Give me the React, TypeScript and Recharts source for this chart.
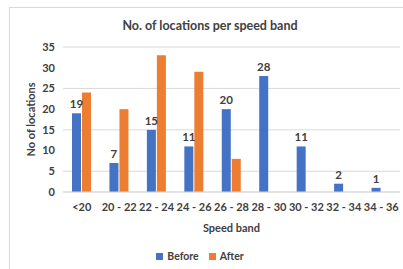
import React from 'react';
import { BarChart, Bar, XAxis, YAxis, CartesianGrid, Legend, LabelList } from 'recharts';

const bands = ['<20', '20 - 22', '22 - 24', '24 - 26', '26 - 28', '28 - 30', '30 - 32', '32 - 34', '34 - 36'];
const before = [19, 7, 15, 11, 20, 28, 11, 2, 1];
const after = [24, 20, 33, 29, 8, 0, 0, 0, 0];
const yTicks = [0, 5, 10, 15, 20, 25, 30, 35];
const seriesNames = ['Before', 'After'];
const seriesColors = ['#4472C4', '#ED7D31'];

const chartData = bands.map((band, i) => ({ band, before: before[i], after: after[i] }));

const font = 'Lato, "Open Sans", sans-serif';
const textColor = '#404040';

// legend drawn in series order (recharts 3 sorts by name otherwise)
const LegendContent = () => (
    <div style={{ display: 'flex', justifyContent: 'center', gap: 10, fontSize: 10.5, fontWeight: 700, color: textColor, fontFamily: font, lineHeight: '12px' }}>
        {seriesNames.map((name, i) => (
            <span key={name} style={{ display: 'flex', alignItems: 'center' }}>
                <span style={{ width: 7, height: 7, background: seriesColors[i], marginRight: 4, display: 'inline-block' }} />
                {name}
            </span>
        ))}
    </div>
);

const App: React.FC = () => {
    return (
        <div style={{ position: 'absolute', left: 0, top: 0, width: 403, height: 269, background: '#fff', fontFamily: font, overflow: 'hidden' }}>
            <div
                style={{
                    position: 'absolute',
                    left: 9,
                    top: 7,
                    width: 400,
                    height: 270,
                    border: '1px solid #d9d9d9',
                    boxSizing: 'border-box',
                }}
            />
            <div
                style={{
                    position: 'absolute',
                    left: 0,
                    width: 420,
                    top: 18,
                    textAlign: 'center',
                    fontSize: 12.5,
                    fontWeight: 700,
                    color: textColor,
                }}
            >
                No. of locations per speed band
            </div>
            <BarChart
                width={403}
                height={269}
                data={chartData}
                margin={{ top: 47, right: 3, bottom: 7, left: 0 }}
                barGap={1}
                style={{ position: 'absolute', left: 0, top: 0 }}
            >
                <CartesianGrid vertical={false} stroke="#d9d9d9" />
                <XAxis
                    dataKey="band"
                    height={58}
                    tickLine={false}
                    axisLine={{ stroke: '#d9d9d9' }}
                    interval={0}
                    tickMargin={5}
                    tick={{ fontSize: 11, fontWeight: 700, fill: textColor, fontFamily: font }}
                    label={{ value: 'Speed band', position: 'insideBottom', offset: 18, fontSize: 11, fontWeight: 700, fill: textColor, fontFamily: font }}
                />
                <YAxis
                    width={63}
                    domain={[0, 35]}
                    ticks={yTicks}
                    tickLine={false}
                    tickSize={0}
                    tickMargin={8}
                    axisLine={false}
                    tick={{ fontSize: 11, fontWeight: 700, fill: textColor, fontFamily: font }}
                    label={{
                        value: 'No of locations',
                        angle: -90,
                        position: 'insideLeft',
                        offset: 31,
                        fontSize: 11,
                        fontWeight: 700,
                        fill: textColor,
                        fontFamily: font,
                        style: { textAnchor: 'middle' },
                    }}
                />
                <Legend verticalAlign="bottom" height={12} content={<LegendContent />} />
                <Bar dataKey="before" name="Before" fill={seriesColors[0]} barSize={9} isAnimationActive={false}>
                    <LabelList dataKey="before" position="top" style={{ fontSize: 11.5, fontWeight: 700, fill: textColor, fontFamily: font }} />
                </Bar>
                <Bar dataKey="after" name="After" fill={seriesColors[1]} barSize={9} isAnimationActive={false} />
            </BarChart>
        </div>
    );
};

export default App;
